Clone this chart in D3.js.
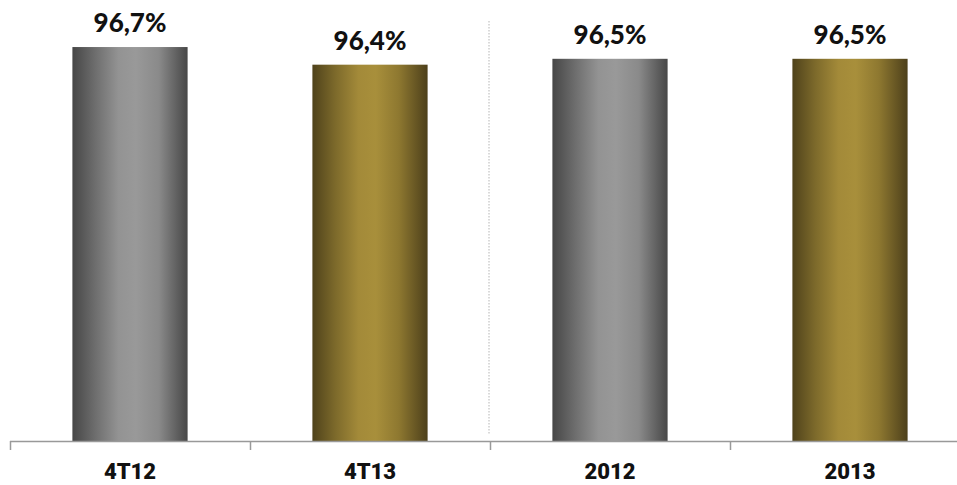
<!DOCTYPE html>
<html>
<head>
<meta charset="utf-8">
<script src="https://cdn.jsdelivr.net/npm/d3@7/dist/d3.min.js"></script>
<style>
  html, body { margin: 0; padding: 0; background: #fff; }
  svg { display: block; }
</style>
</head>
<body>
<svg id="chart" width="957" height="485"></svg>
<script>
// Chart data
const categories = ["4T12", "4T13", "2012", "2013"];
const values = [96.7, 96.4, 96.5, 96.5];
const valueLabels = ["96,7%", "96,4%", "96,5%", "96,5%"];
const seriesKind = ["gray", "gold", "gray", "gold"];

const svg = d3.select("#chart");
const W = 957, H = 485;
const baseY = 441;

// Band scale: each category occupies 240px starting at x=10
const x = d3.scaleBand()
  .domain(categories)
  .range([10, 970])
  .paddingInner(0.52)
  .paddingOuter(0.26);

const y = d3.scaleLinear()
  .domain([90, 97.5])
  .range([baseY, 0]);

// Horizontal cylinder-like shading
const defs = svg.append("defs");
const gradStops = {
  gray: ["#464646", "#6e6e6e", "#939393", "#999999", "#8a8a8a", "#474747"],
  gold: ["#4f421b", "#7d6a2b", "#a38a39", "#a88f3b", "#8e7830", "#4d401b"]
};
const offsets = [0, 0.2, 0.4, 0.55, 0.75, 1];
Object.entries(gradStops).forEach(([k, cols]) => {
  const g = defs.append("linearGradient")
    .attr("id", "grad-" + k)
    .attr("x1", "0%").attr("x2", "100%")
    .attr("y1", "0%").attr("y2", "0%");
  cols.forEach((c, i) => g.append("stop").attr("offset", offsets[i]).attr("stop-color", c));
});

// Dotted divider between quarterly and yearly groups
const dividerX = x.step() * 2 + 10 - 1;
svg.append("line")
  .attr("x1", dividerX).attr("x2", dividerX)
  .attr("y1", 21).attr("y2", 435)
  .attr("stroke", "#b5b5b5")
  .attr("stroke-width", 1)
  .attr("stroke-dasharray", "1.5,1.5");

// Bars
svg.selectAll("rect.bar")
  .data(categories)
  .enter().append("rect")
  .attr("class", "bar")
  .attr("x", d => x(d))
  .attr("width", x.bandwidth())
  .attr("y", (d, i) => y(values[i]))
  .attr("height", (d, i) => baseY - y(values[i]))
  .attr("fill", (d, i) => `url(#grad-${seriesKind[i]})`);

// Value labels
svg.selectAll("text.val")
  .data(categories)
  .enter().append("text")
  .attr("class", "val")
  .attr("x", d => x(d) + x.bandwidth() / 2)
  .attr("y", (d, i) => y(values[i]) - 15)
  .attr("text-anchor", "middle")
  .attr("font-family", "Lato, 'DejaVu Sans', sans-serif")
  .attr("font-weight", "900")
  .attr("font-size", "26px")
  .attr("fill", "#111")
  .text((d, i) => valueLabels[i]);

// X axis with category boundary ticks
const axisG = svg.append("g");
axisG.append("line")
  .attr("x1", 10).attr("x2", W)
  .attr("y1", baseY + 0.5).attr("y2", baseY + 0.5)
  .attr("stroke", "#999").attr("stroke-width", 1.5);
const tickXs = d3.range(categories.length).map(i => 10 + i * x.step());
axisG.selectAll("line.tick")
  .data(tickXs)
  .enter().append("line")
  .attr("class", "tick")
  .attr("x1", d => d + 0.5).attr("x2", d => d + 0.5)
  .attr("y1", baseY).attr("y2", baseY + 9)
  .attr("stroke", "#999").attr("stroke-width", 1.5);

// Category labels
svg.selectAll("text.cat")
  .data(categories)
  .enter().append("text")
  .attr("class", "cat")
  .attr("x", d => x(d) + x.bandwidth() / 2)
  .attr("y", 479)
  .attr("text-anchor", "middle")
  .attr("font-family", "Roboto, 'Liberation Sans', sans-serif")
  .attr("font-weight", "900")
  .attr("font-size", "22px")
  .attr("fill", "#111")
  .text(d => d);
</script>
</body>
</html>
